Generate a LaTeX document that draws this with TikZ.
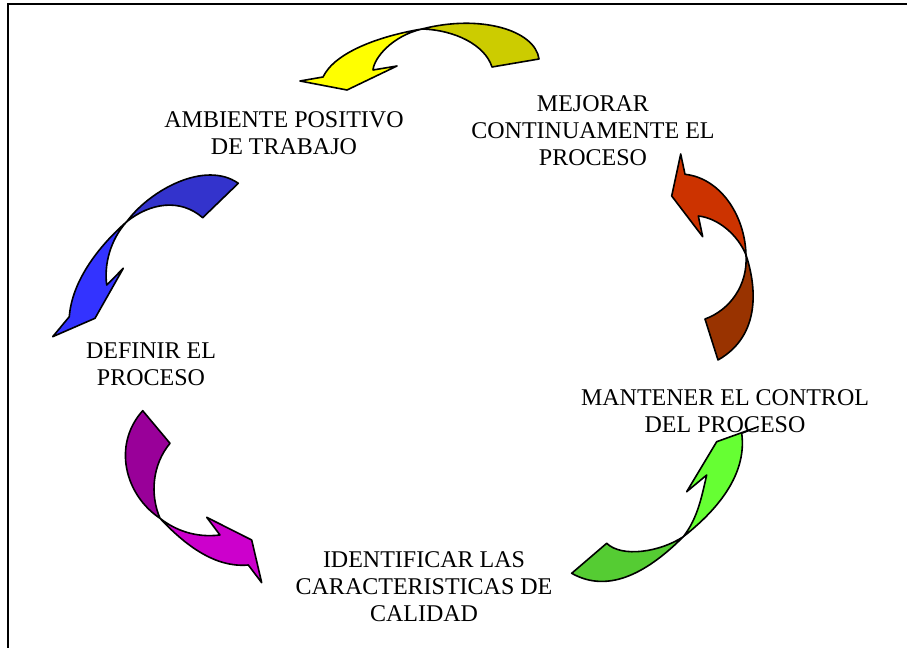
\documentclass[tikz,border=0pt]{standalone}
\usepackage{fontspec}
\setmainfont{Liberation Serif}
\definecolor{yelL}{HTML}{FFFF00}
\definecolor{yelD}{HTML}{CCCC00}
\definecolor{redL}{HTML}{CC3300}
\definecolor{redD}{HTML}{993300}
\definecolor{grnL}{HTML}{66FF33}
\definecolor{grnD}{HTML}{55CC33}
\definecolor{purL}{HTML}{CC00CC}
\definecolor{purD}{HTML}{990099}
\definecolor{bluL}{HTML}{3333FF}
\definecolor{bluD}{HTML}{3333CC}
\tikzset{
  arrowpart/.style={draw=black, line width=1.2pt, line join=round},
  lbl/.style={align=center, inner sep=0pt, font=\fontsize{18pt}{20.25pt}\selectfont},
}
\begin{document}
\begin{tikzpicture}[x=0.75pt, y=-0.75pt]
\useasboundingbox (0,0) rectangle (907,648);
% frame
\draw[line width=1.5pt] (7,4.5) -- (907,4.5);
\draw[line width=1.1pt] (8,4) -- (8,648);

% yellow arrow
\filldraw[arrowpart, fill=yelD] (422,29) .. controls (480,14) and (535,30) .. (539,59) -- (492,67) .. controls (485,45) and (455,30) .. (422,29) -- cycle;
\filldraw[arrowpart, fill=yelL] (422,29) .. controls (380,36) and (335,52) .. (323,77) -- (300,81) -- (347,90) -- (397,66) -- (373,70) .. controls (374,58) and (392,36) .. (422,29) -- cycle;

% red arrow
\filldraw[arrowpart, fill=redD] (746,255) .. controls (756,285) and (762,335) .. (718,360) -- (705,319) .. controls (730,310) and (748,285) .. (746,255) -- cycle;
\filldraw[arrowpart, fill=redL] (746,255) .. controls (745,215) and (720,178) .. (685,174.3) -- (680.7,154) -- (671.7,196) -- (702.7,236.7) -- (698.3,216) .. controls (718,218) and (738,235) .. (746,255) -- cycle;

% green arrow
\filldraw[arrowpart, fill=grnD] (683.3,536.7) .. controls (650,570) and (610,595) .. (571.7,573.3) -- (606.7,543.3) .. controls (622,558) and (660,552) .. (683.3,536.7) -- cycle;
\filldraw[arrowpart, fill=grnL] (683.3,536.7) .. controls (698,518) and (702,495) .. (706.7,475) -- (686.7,491.7) -- (716.7,441.7) -- (758.3,426.7) -- (741.7,433.3) .. controls (746,465) and (730,500) .. (683.3,536.7) -- cycle;

% purple arrow
\filldraw[arrowpart, fill=purD] (142.7,410.7) -- (170,443.3) .. controls (152,465) and (150,495) .. (160,518.3) .. controls (125,495) and (112,445) .. (142.7,410.7) -- cycle;
\filldraw[arrowpart, fill=purL] (160,518.3) .. controls (185,545) and (215,568) .. (248.3,565) -- (261.7,582.7) -- (251.7,540) -- (206.7,517.3) -- (220,535) .. controls (195,538) and (175,530) .. (160,518.3) -- cycle;

% blue arrow
\filldraw[arrowpart, fill=bluD] (238.3,183.3) -- (202.7,217.7) .. controls (180,198) and (150,203) .. (126.7,221.7) .. controls (150,190) and (205,160) .. (238.3,183.3) -- cycle;
\filldraw[arrowpart, fill=bluL] (126.7,221.7) .. controls (100,245) and (72,280) .. (69.3,316.7) -- (52.7,336.7) -- (95,318.3) -- (123.3,268.3) -- (106.7,285) .. controls (104,265) and (110,240) .. (126.7,221.7) -- cycle;

% labels
\node[lbl] (mejorar) at (593,131) {MEJORAR\\CONTINUAMENTE EL\\PROCESO};
\node[lbl] (ambiente) at (284,133) {AMBIENTE POSITIVO\\DE TRABAJO};
\node[lbl] (mantener) at (725,411) {MANTENER EL CONTROL\\DEL PROCESO};
\node[lbl] (definir) at (151,364) {DEFINIR EL\\PROCESO};
\node[lbl] (identificar) at (424,587) {IDENTIFICAR LAS\\CARACTERISTICAS DE\\CALIDAD};
\end{tikzpicture}
\end{document}
